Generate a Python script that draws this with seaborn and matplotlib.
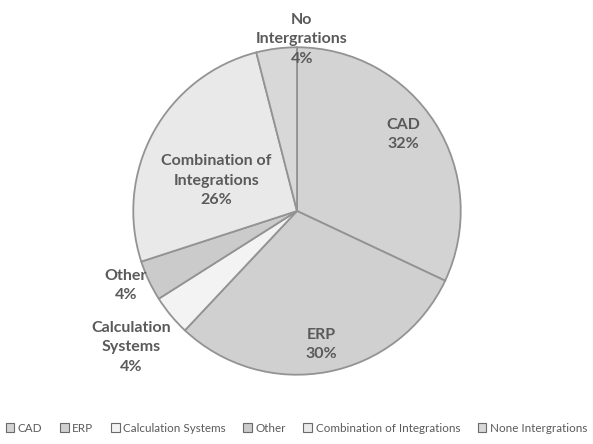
import numpy as np
import matplotlib
matplotlib.use("Agg")
import matplotlib.pyplot as plt
from matplotlib.patches import Patch
import seaborn as sns

# Share of integration types
categories = ["CAD", "ERP", "Calculation Systems", "Other",
              "Combination of Integrations", "None Intergrations"]
slice_labels = ["CAD", "ERP", "Calculation\nSystems", "Other",
                "Combination of\nIntegrations", "No\nIntergrations"]
shares = [32, 30, 4, 4, 26, 4]
colors = ["#d3d3d3", "#d0d0d0", "#f3f3f3", "#cbcbcb", "#e9e9e9", "#d8d8d8"]
# label placement: distance from centre (fraction of radius) and angular nudge (deg)
label_radius = [0.80, 0.83, 1.31, 1.14, 0.525, 1.05]
label_nudge = [3.4, -0.4, -0.2, -1.7, 8.3, -8.8]

sns.set_theme(style="white")
plt.rcParams["font.family"] = ["Lato", "DejaVu Sans"]

fig = plt.figure(figsize=(5.93, 4.44), dpi=100)
ax = fig.add_axes([130 / 593, 66 / 444, 334 / 593, 334 / 444])

wedges, _ = ax.pie(shares, colors=colors, startangle=90, counterclock=False,
                   radius=1.0,
                   wedgeprops=dict(edgecolor="#939393", linewidth=1.3))
ax.set_xlim(-1.02, 1.02)
ax.set_ylim(-1.02, 1.02)
ax.set_aspect("equal")
ax.axis("off")

text_color = "#5a5a5a"
for w, lab, val, r, nd in zip(wedges, slice_labels, shares, label_radius, label_nudge):
    mid = np.deg2rad((w.theta1 + w.theta2) / 2 + nd)
    x, y = r * np.cos(mid), r * np.sin(mid)
    ax.text(x, y, f"{lab}\n{val}%", ha="center", va="center",
            fontsize=11.5, fontweight="bold", color=text_color,
            linespacing=1.5, clip_on=False)

handles = [Patch(facecolor=c, edgecolor="#6a6a6a", linewidth=0.8) for c in colors]
fig.legend(handles, categories, loc="center", bbox_to_anchor=(0.5, 16 / 444),
           ncol=6, frameon=False, fontsize=8.4, handlelength=0.75, handleheight=0.75,
           handletextpad=0.3, columnspacing=1.5, labelcolor=text_color)

fig.savefig("out.png", dpi=100, facecolor="white")
